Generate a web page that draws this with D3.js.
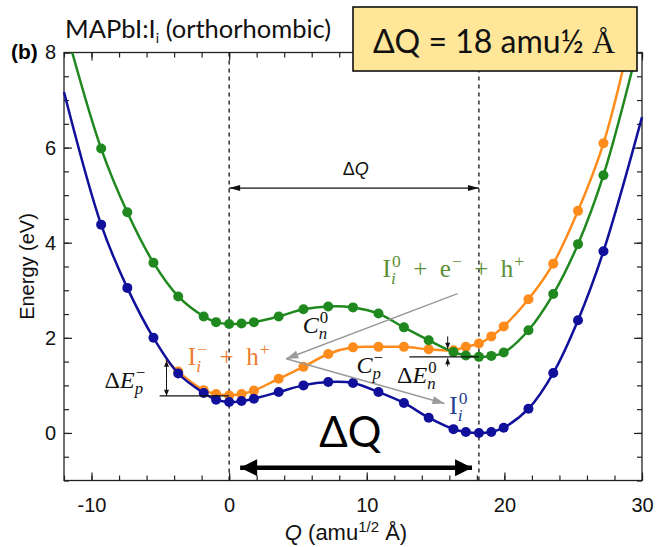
<!DOCTYPE html>
<html>
<head>
<meta charset="utf-8">
<script src="https://cdn.jsdelivr.net/npm/d3@7"></script>
<style>
body { margin: 0; background: #fff; }
svg { display: block; }
</style>
</head>
<body>
<svg id="chart"></svg>
<script>
let width = 656;
let height = 547;
let frame = {left: 64, right: 642, top: 52.5, bottom: 480.5};

// configuration coordinate Q (amu^1/2 A) of the calculated points
const qPoints = [-9.3, -7.4, -5.5, -3.7, -1.85, -0.95, 0, 0.9, 1.8, 3.6, 5.4, 7.2, 9.0, 10.85,
    12.7, 14.5, 16.3, 17.2, 18.15, 19.05, 19.95, 21.75, 23.55, 25.35, 27.2];
// I_i^0 (blue)
const eNeutral = [4.38, 3.05, 2.00, 1.25, 0.84, 0.70, 0.65, 0.67, 0.72, 0.86, 1.00, 1.07, 1.05, 0.86,
    0.63, 0.32, 0.08, 0.02, 0.00, 0.02, 0.11, 0.51, 1.26, 2.37, 3.82];
// I_i^- + h^+ (orange), no points where it lies under the blue curve
const eCharged = [null, null, null, 1.29, 0.90, 0.82, 0.79, 0.82, 0.89, 1.14, 1.39, 1.66, 1.80, 1.81,
    1.81, 1.76, 1.74, 1.81, 1.88, 2.03, 2.24, 2.81, 3.56, 4.67, 6.09];
// I_i^0 + e^- + h^+ (green)
const eExcited = [5.98, 4.64, 3.58, 2.87, 2.45, 2.33, 2.29, 2.30, 2.33, 2.45, 2.60, 2.66, 2.64, 2.51,
    2.22, 1.95, 1.70, 1.63, 1.60, 1.62, 1.69, 2.16, 2.92, 3.97, 5.42];

// where each fitted curve leaves the frame (or joins the blue one)
const neutralEnds = [[-12, 7.17], [30, 6.64]];
const chargedEnds = [[-4.6, 1.55], [28.9, 8.0]];
const excitedEnds = [[-11.4, 8.0], [29.6, 8.0]];

const equilibriumQ = [0, 18.15];
const xMajorTicks = [-10, 0, 10, 20, 30];
const yMajorTicks = [0, 2, 4, 6, 8];

const mathFont = "'Liberation Serif', 'Times New Roman', serif";
const sansFont = "'Liberation Sans', Arial, sans-serif";
const boxFont = "Lato, 'Open Sans', sans-serif";

let svg = d3.select("#chart").attr("width", width).attr("height", height);

let x = d3.scaleLinear().domain([-12, 30]).range([frame.left, frame.right]);
let y = d3.scaleLinear().domain([-1, 8]).range([frame.bottom, frame.top]);

// ---- axes (ticks point inwards on all four sides)
function addAxis(axis, tx, ty, values, size, labels, pad) {
    let g = svg.append("g").attr("transform", `translate(${tx},${ty})`)
        .call(axis.tickValues(values).tickSize(-size).tickPadding(pad || 3)
            .tickFormat(labels ? (d => String(d)) : ""));
    g.select(".domain").remove();
    g.selectAll("line").attr("stroke", "#222").attr("stroke-width", 1.2);
    g.selectAll("text").attr("fill", "#111").style("font-family", sansFont).style("font-size", "20px");
    return g;
}
let xMinor = d3.range(-12, 31, 2);
let yMinor = d3.range(-1, 8.01, 0.5);
addAxis(d3.axisBottom(x), 0, frame.bottom, xMinor, 5, false);
addAxis(d3.axisBottom(x), 0, frame.bottom, xMajorTicks, 8, true, 17);
addAxis(d3.axisTop(x), 0, frame.top, xMinor, 5, false);
addAxis(d3.axisTop(x), 0, frame.top, xMajorTicks, 8, false);
addAxis(d3.axisLeft(y), frame.left, 0, yMinor, 5, false);
addAxis(d3.axisLeft(y), frame.left, 0, yMajorTicks, 8, true, 8);
addAxis(d3.axisRight(y), frame.right, 0, yMinor, 5, false);
addAxis(d3.axisRight(y), frame.right, 0, yMajorTicks, 8, false);

svg.append("rect")
    .attr("x", frame.left).attr("y", frame.top)
    .attr("width", frame.right - frame.left).attr("height", frame.bottom - frame.top)
    .attr("fill", "none").attr("stroke", "#222").attr("stroke-width", 1.3);

svg.append("text").attr("transform", `translate(27,${(frame.top + frame.bottom) / 2}) rotate(-90)`)
    .attr("text-anchor", "middle").attr("dy", "0.35em")
    .style("font-family", sansFont).style("font-size", "20px").attr("fill", "#111")
    .text("Energy (eV)");

let xTitle = svg.append("text").attr("x", 346).attr("y", 540).attr("text-anchor", "middle")
    .style("font-family", sansFont).style("font-size", "22px").attr("fill", "#111");
xTitle.append("tspan").style("font-style", "italic").text("Q");
xTitle.append("tspan").text(" (amu");
xTitle.append("tspan").attr("dy", -8).style("font-size", "15px").text("1/2");
xTitle.append("tspan").attr("dy", 8).text(" Å)");

svg.append("text").attr("x", 11).attr("y", 59)
    .style("font-family", sansFont).style("font-size", "21px").style("font-weight", "bold")
    .text("(b)");

let title = svg.append("text").attr("x", 65).attr("y", 38)
    .style("font-family", boxFont).style("font-size", "25.5px").attr("fill", "#111");
title.append("tspan").text("MAPbI:I");
title.append("tspan").attr("dy", 5).style("font-size", "14px").text("i");
title.append("tspan").attr("dy", -5).text(" (orthorhombic)");

// ---- equilibrium geometries
svg.append("g").selectAll("line")
    .data(equilibriumQ)
    .enter().append("line")
    .attr("x1", d => x(d)).attr("x2", d => x(d))
    .attr("y1", frame.top).attr("y2", frame.bottom)
    .attr("stroke", "#111").attr("stroke-width", 1.3).attr("stroke-dasharray", "4,4");

// ---- potential energy curves
let curves = [
    {name: "charged", values: eCharged, ends: chargedEnds, color: "#fd8c1c"},
    {name: "excited", values: eExcited, ends: excitedEnds, color: "#1f891f"},
    {name: "neutral", values: eNeutral, ends: neutralEnds, color: "#10109a"}
];

let line = d3.line()
    .x(d => x(d[0]))
    .y(d => y(d[1]))
    .curve(d3.curveCatmullRom.alpha(0.5));

curves.forEach(function (c) {
    let pts = qPoints.map((q, i) => [q, c.values[i]]).filter(d => d[1] != null);
    let full = [c.ends[0]].concat(pts, [c.ends[1]]);
    let g = svg.append("g").attr("id", c.name);
    g.append("path")
        .attr("d", line(full))
        .attr("fill", "none")
        .attr("stroke", c.color)
        .attr("stroke-width", 2.5);
    g.selectAll("circle")
        .data(pts)
        .enter().append("circle")
        .attr("cx", d => x(d[0]))
        .attr("cy", d => y(d[1]))
        .attr("r", 5)
        .attr("fill", c.color);
});

// ---- arrows
function arrowHead(g, x1, y1, x2, y2, len, half, color) {
    let dx = x2 - x1, dy = y2 - y1;
    let l = Math.sqrt(dx * dx + dy * dy);
    dx /= l; dy /= l;
    let bx = x2 - dx * len, by = y2 - dy * len;
    g.append("path")
        .attr("d", `M${x2},${y2}L${bx - dy * half},${by + dx * half}L${bx + dy * half},${by - dx * half}Z`)
        .attr("fill", color);
}

function arrow(x1, y1, x2, y2, opts) {
    let g = svg.append("g");
    g.append("line")
        .attr("x1", x1).attr("y1", y1).attr("x2", x2).attr("y2", y2)
        .attr("stroke", opts.color).attr("stroke-width", opts.width);
    arrowHead(g, x1, y1, x2, y2, opts.len, opts.half, opts.color);
    if (opts.both) arrowHead(g, x2, y2, x1, y1, opts.len, opts.half, opts.color);
}

// Delta Q between the two minima
arrow(x(0), y(5.15), x(18.15), y(5.15), {color: "#111", width: 1.2, len: 11, half: 3, both: true});
arrow(x(0.8), y(-0.73), x(17.65), y(-0.73), {color: "#000", width: 4.5, len: 17, half: 8.5, both: true});

// capture paths
arrow(x(16.6), y(2.93), x(4.15), y(1.56), {color: "#9a9a9a", width: 1.4, len: 12, half: 4});
arrow(x(4.15), y(1.56), x(15.65), y(0.62), {color: "#9a9a9a", width: 1.4, len: 12, half: 4});

// barriers Delta E
svg.append("line").attr("x1", x(-5.05)).attr("x2", x(0)).attr("y1", y(0.78)).attr("y2", y(0.78))
    .attr("stroke", "#111").attr("stroke-width", 1.2);
arrow(x(-4.55), y(1.15), x(-4.55), y(1.52), {color: "#111", width: 1, len: 6, half: 2.5});
arrow(x(-4.55), y(1.15), x(-4.55), y(0.78), {color: "#111", width: 1, len: 6, half: 2.5});
svg.append("line").attr("x1", x(13.1)).attr("x2", x(18.15)).attr("y1", y(1.60)).attr("y2", y(1.60))
    .attr("stroke", "#111").attr("stroke-width", 1.2);
arrow(x(15.88), y(2.03), x(15.88), y(1.77), {color: "#111", width: 1, len: 6, half: 2.5});
arrow(x(15.88), y(1.40), x(15.88), y(1.57), {color: "#111", width: 1, len: 6, half: 2.5});

// ---- math labels: parts are text runs or stacked sub/superscripts
function mathLabel(px, py, parts, size, color) {
    let g = svg.append("g").attr("fill", color)
        .style("font-family", mathFont).style("font-size", size + "px");
    let cx = px;
    parts.forEach(function (p) {
        if (p.t != null) {
            let t = g.append("text").attr("x", cx).attr("y", py)
                .style("font-style", p.i ? "italic" : "normal").text(p.t);
            cx += t.node().getComputedTextLength();
        } else {
            let w = 0;
            if (p.sup != null) {
                let t = g.append("text").attr("x", cx + 1).attr("y", py - size * 0.42)
                    .style("font-size", size * 0.7 + "px").text(p.sup);
                w = Math.max(w, t.node().getComputedTextLength());
            }
            if (p.sub != null) {
                let t = g.append("text").attr("x", cx).attr("y", py + size * 0.25)
                    .style("font-size", size * 0.7 + "px").style("font-style", "italic").text(p.sub);
                w = Math.max(w, t.node().getComputedTextLength());
            }
            cx += w + 1;
        }
    });
}

let plus = "\u2002+\u2002";
mathLabel(x(-3.0), y(1.42), [{t: "I"}, {sub: "i", sup: "\u2212"}, {t: plus}, {t: "h"}, {sup: "+"}], 25, "#ed7d31");
mathLabel(x(11.15), y(3.27), [{t: "I"}, {sub: "i", sup: "0"}, {t: plus}, {t: "e"}, {sup: "\u2212"},
    {t: plus}, {t: "h"}, {sup: "+"}], 25, "#5a8f38");
mathLabel(x(16.0), y(0.39), [{t: "I"}, {sub: "i", sup: "0"}], 25, "#23408f");
mathLabel(x(5.35), y(2.11), [{t: "C", i: true}, {sub: "n", sup: "0"}], 24, "#111");
mathLabel(x(9.25), y(1.26), [{t: "C", i: true}, {sub: "p", sup: "\u2212"}], 24, "#111");
mathLabel(x(12.2), y(1.04), [{t: "\u0394"}, {t: "E", i: true}, {sub: "n", sup: "0"}], 24, "#111");
mathLabel(x(-9.05), y(0.94), [{t: "\u0394"}, {t: "E", i: true}, {sub: "p", sup: "\u2212"}], 24, "#111");

let dq = svg.append("text").attr("x", x(9.2)).attr("y", y(5.42)).attr("text-anchor", "middle")
    .style("font-family", sansFont).style("font-size", "18px").attr("fill", "#111");
dq.append("tspan").text("\u0394");
dq.append("tspan").style("font-style", "italic").text("Q");

svg.append("text").attr("x", x(8.8)).attr("y", y(-0.3)).attr("text-anchor", "middle")
    .style("font-family", boxFont).style("font-size", "42px").attr("fill", "#000")
    .text("\u0394Q");

// ---- highlighted box
svg.append("rect").attr("x", 353).attr("y", 7).attr("width", 284).attr("height", 64)
    .attr("fill", "#ffe699").attr("stroke", "#111").attr("stroke-width", 1.6);
let box = svg.append("text").attr("x", 494).attr("y", 53).attr("text-anchor", "middle")
    .style("font-family", boxFont).style("font-size", "32px").attr("fill", "#111");
box.append("tspan").text("\u0394Q = 18 amu\u00bd ");
box.append("tspan").style("font-family", mathFont).text("Å");
</script>
</body>
</html>
